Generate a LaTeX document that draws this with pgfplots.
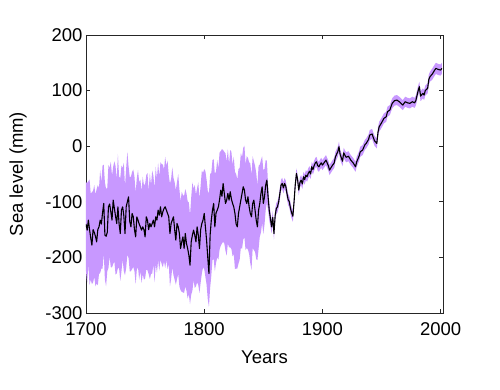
\documentclass[border=0pt]{standalone}
\usepackage{fontspec}
\setmainfont{Liberation Sans}
\usepackage{pgfplots}
\pgfplotsset{compat=1.18}
\usepackage{pgfplotstable}
\definecolor{band}{RGB}{200,152,255}

\pgfplotstableread{
year mean dhi dlo
1700 -140 75 85
1701 -151 85 95
1702 -133 70 80
1703 -150 90 100
1704 -165 80 75
1705 -178 95 70
1706 -150 70 95
1707 -155 85 80
1708 -162 75 90
1709 -172 95 75
1710 -150 80 100
1711 -145 70 85
1712 -133 90 95
1713 -140 75 80
1714 -120 85 100
1715 -103 70 90
1716 -160 95 80
1717 -162 85 90
1718 -155 80 70
1719 -109 75 110
1720 -104 65 95
1721 -118 90 100
1722 -133 80 85
1723 -97 60 115
1724 -112 85 95
1725 -126 90 105
1726 -139 80 90
1727 -109 95 110
1728 -140 85 80
1729 -157 100 85
1730 -115 80 110
1731 -109 70 95
1732 -125 95 100
1733 -157 85 75
1734 -109 70 110
1735 -100 90 95
1736 -91 55 110
1737 -135 80 90
1738 -145 90 80
1739 -121 75 100
1740 -127 85 90
1741 -150 95 75
1742 -163 80 85
1743 -127 70 95
1744 -133 90 85
1745 -140 75 100
1746 -145 85 80
1747 -151 70 95
1748 -145 90 85
1749 -150 80 90
1750 -163 95 75
1751 -127 75 95
1752 -133 85 90
1753 -150 70 80
1754 -139 90 100
1755 -145 75 85
1756 -139 95 90
1757 -133 80 80
1758 -145 70 100
1759 -127 90 85
1760 -133 75 95
1761 -115 85 90
1762 -124 70 100
1763 -109 80 95
1764 -127 95 85
1765 -118 85 100
1766 -112 70 95
1767 -109 90 110
1768 -115 80 90
1769 -121 95 100
1770 -127 75 85
1771 -157 90 95
1772 -139 80 100
1773 -133 95 85
1774 -127 70 105
1775 -150 85 90
1776 -169 90 80
1777 -139 75 100
1778 -145 95 85
1779 -157 80 95
1780 -184 85 75
1781 -172 90 90
1782 -163 75 100
1783 -184 95 80
1784 -157 80 95
1785 -175 90 85
1786 -184 85 90
1787 -196 95 70
1788 -214 90 70
1789 -172 80 95
1790 -160 95 100
1791 -151 75 90
1792 -160 90 95
1793 -172 85 80
1794 -145 70 100
1795 -160 95 90
1796 -184 90 80
1797 -150 80 95
1798 -139 95 90
1799 -133 85 85
1800 -121 80 100
1801 -145 100 90
1802 -169 109 80
1803 -200 120 75
1804 -229 144 60
1805 -160 110 95
1806 -133 85 100
1807 -115 90 90
1808 -103 80 100
1809 -145 95 80
1810 -120 75 90
1811 -115 90 85
1812 -109 70 95
1813 -96 85 90
1814 -79 70 100
1815 -90 85 85
1816 -67 60 105
1817 -85 75 90
1818 -103 90 85
1819 -97 70 100
1820 -85 80 90
1821 -97 65 85
1822 -82 75 100
1823 -95 85 90
1824 -103 70 95
1825 -109 90 85
1826 -121 75 100
1827 -140 90 80
1828 -145 85 75
1829 -121 80 90
1830 -109 70 95
1831 -97 85 85
1832 -85 65 100
1833 -73 70 95
1834 -79 80 85
1835 -97 65 90
1836 -103 85 80
1837 -91 70 95
1838 -109 80 85
1839 -121 90 90
1840 -127 75 95
1841 -103 85 80
1842 -97 70 90
1843 -115 80 75
1844 -133 85 70
1845 -145 75 60
1846 -115 80 70
1847 -103 70 60
1848 -85 60 70
1849 -73 55 65
1850 -103 60 55
1851 -91 50 50
1852 -70 45 45
1853 -61 35 40
1854 -90 22 25
1855 -115 15 18
1856 -130 12 14
1857 -145 12 12
1858 -128 11 12
1859 -157 11 11
1860 -125 11 11
1861 -112 10 10
1862 -109 10 10
1863 -100 10 10
1864 -85 10 10
1865 -70 10 10
1866 -67 10 10
1867 -75 10 10
1868 -67 10 10
1869 -72 10 10
1870 -85 10 10
1871 -96 10 10
1872 -100 10 10
1873 -112 10 10
1874 -120 10 10
1875 -126 10 10
1876 -100 10 10
1877 -70 9 9
1878 -49 9 9
1879 -60 9 9
1880 -79 9 9
1881 -65 9 9
1882 -61 9 9
1883 -68 9 9
1884 -55 9 9
1885 -60 9 9
1886 -52 9 9
1887 -55 9 9
1888 -49 9 9
1889 -45 9 9
1890 -50 9 9
1891 -37 9 9
1892 -42 9 9
1893 -35 9 9
1894 -30 9 9
1895 -28 9 9
1896 -35 9 9
1897 -37 9 9
1898 -33 9 9
1899 -30 9 9
1900 -34 9 9
1902 -28 9 9
1903 -25 9 9
1905 -35 9 9
1906 -43 9 9
1908 -36 9 9
1910 -30 9 9
1911 -19 9 9
1913 -10 9 9
1914 -1 9 9
1915 -15 9 9
1917 -27 9 9
1918 -12 9 9
1920 -20 9 9
1922 -18 9 9
1924 -25 9 9
1926 -30 9 9
1928 -37 9 9
1929 -28 9 9
1931 -18 9 9
1932 -10 9 9
1934 -7 9 9
1936 3 9 9
1937 5 9 9
1939 12 9 9
1940 20 9 9
1942 22 9 9
1944 10 9 9
1946 5 9 9
1947 25 9 9
1948 35 9 9
1950 42 9 9
1952 50 9 9
1954 53 9 9
1955 62 9 9
1957 65 9 9
1959 77 9 9
1961 82 9 9
1963 83 9 9
1965 80 9 9
1966 78 9 9
1968 74 9 9
1970 80 9 9
1972 78 9 9
1974 77 9 9
1976 80 9 9
1978 78 9 9
1979 82 9 9
1981 100 9 9
1982 107 9 9
1983 90 9 9
1985 95 9 9
1986 92 9 9
1987 100 9 9
1989 104 9 9
1990 120 9 9
1991 125 9 9
1993 130 10 10
1995 137 10 10
1996 140 10 10
1998 138 10 10
2000 137 10 10
2001 140 10 10
}\sealevel

\begin{document}
\begin{tikzpicture}
\begin{axis}[
  scale only axis, width=357pt, height=278pt,
  at={(0,0)}, anchor=south west,
  xmin=1700, xmax=2002, ymin=-300, ymax=200,
  xtick={1700,1800,1900,2000},
  ytick={-300,-200,-100,0,100,200},
  tick align=inside, major tick length=4pt,
  /pgf/number format/assume math mode=true,
  x tick label style={/pgf/number format/1000 sep={}, yshift=-6pt},
  ticklabel style={font=\fontsize{18.5}{20}\selectfont},
  label style={font=\fontsize{18.5}{20}\selectfont},
  xlabel={Years}, ylabel={Sea level (mm)},
  xlabel style={at={(axis description cs:0.5,-0.16)}, anchor=center},
  ylabel style={at={(axis description cs:-0.19,0.5)}, anchor=center},
  axis line style={line width=0.8pt, black!85},
  tick style={line width=0.8pt, black!85},
]
\addplot[draw=none, stack plots=y, forget plot] table[x=year, y expr=\thisrow{mean}-\thisrow{dlo}] {\sealevel};
\addplot[fill=band, draw=none, stack plots=y] table[x=year, y expr=\thisrow{dhi}+\thisrow{dlo}] {\sealevel} \closedcycle;
\addplot[black, stack plots=false, line width=1.1pt, line join=round] table[x=year, y=mean] {\sealevel};
\end{axis}
\path (-86pt,-76pt) rectangle (414pt,313pt);
\end{tikzpicture}
\end{document}
